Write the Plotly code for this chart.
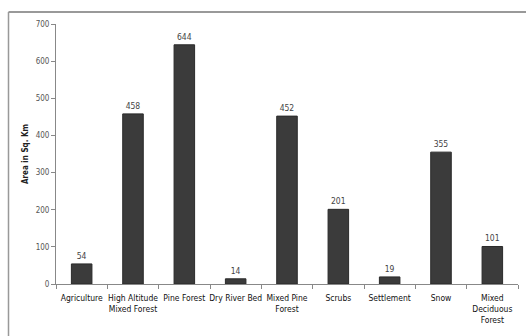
import plotly.graph_objects as go

categories = [
    "Agriculture",
    "High Altitude<br>Mixed Forest",
    "Pine Forest",
    "Dry River Bed",
    "Mixed Pine<br>Forest",
    "Scrubs",
    "Settlement",
    "Snow",
    "Mixed<br>Deciduous<br>Forest",
]
area_sq_km = [54, 458, 644, 14, 452, 201, 19, 355, 101]
y_ticks = [0, 100, 200, 300, 400, 500, 600, 700]

W, H = 526, 336
L, R, T, B = 56, 8, 24, 52
pw, ph = W - L - R, H - T - B
FONT = "DejaVu Sans Condensed, Liberation Sans, Arial, sans-serif"

fig = go.Figure(
    go.Bar(
        x=categories,
        y=area_sq_km,
        marker=dict(color="#3b3b3b", line=dict(color="#2a2a2a", width=1)),
        text=[str(v) for v in area_sq_km],
        textposition="outside",
        textfont=dict(family=FONT, size=8.5, color="#444"),
        cliponaxis=False,
        width=0.4,
    )
)

# frame lines around the chart area (top and left edges)
bx = (8.5 - L) / pw
by = (H - B - 12) / ph
fig.add_shape(type="line", xref="paper", yref="paper", x0=bx, x1=1.2, y0=by, y1=by,
              line=dict(color="#999", width=2))
fig.add_shape(type="line", xref="paper", yref="paper", x0=bx, x1=bx, y0=by, y1=-0.4,
              line=dict(color="#999", width=1.5))

fig.update_layout(
    width=W, height=H,
    margin=dict(l=L, r=R, t=T, b=B),
    paper_bgcolor="white",
    plot_bgcolor="white",
    showlegend=False,
    font=dict(family=FONT, color="#222"),
    xaxis=dict(
        showline=True, linecolor="#888", linewidth=1,
        ticks="outside", tickson="boundaries", ticklen=4, tickcolor="#888",
        tickangle=0, ticklabelstandoff=6,
        tickfont=dict(size=8.5, color="#111"),
        showgrid=False,
    ),
    yaxis=dict(
        range=[0, 700], tickvals=y_ticks,
        showline=True, linecolor="#888", linewidth=1,
        ticks="outside", ticklen=4, tickcolor="#888",
        tickfont=dict(size=8, color="#555"),
        showgrid=False, zeroline=False,
        title=dict(text="<b>Area in Sq. Km</b>", font=dict(size=8, color="#222"), standoff=5),
    ),
)

fig.write_html("out.html")
